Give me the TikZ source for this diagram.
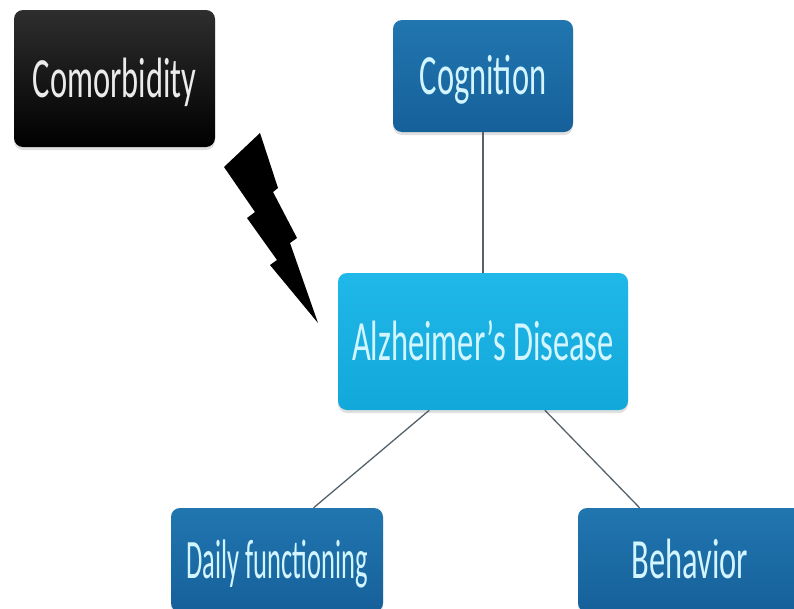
\documentclass[tikz,border=0pt]{standalone}
\usepackage{fontspec}
\setmainfont{Carlito}
\usepackage{graphicx}
\usetikzlibrary{shadows}

\definecolor{deepblue}{HTML}{2176B0}
\definecolor{deepblueb}{HTML}{16609A}
\definecolor{skyblue}{HTML}{20B8E8}
\definecolor{skyblueb}{HTML}{12A8DA}
\definecolor{palecyan}{HTML}{D2F5FF}
\definecolor{linkgrey}{HTML}{56626B}

% box labels are set narrow and tall
\newcommand\tall[2][1.75]{\scalebox{1}[#1]{#2}}

\begin{document}
\begin{tikzpicture}[x=1pt,y=-1pt,
    box/.style={rectangle,rounded corners=9pt,text height=37pt,text depth=0pt,
      inner sep=0pt,font=\fontsize{32.5}{33}\selectfont,
      drop shadow={opacity=.25,shadow xshift=0pt,shadow yshift=-3pt}},
    dark/.style={box,top color=deepblue,bottom color=deepblueb,text=palecyan},
    light/.style={box,top color=skyblue,bottom color=skyblueb,text=palecyan},
    noir/.style={box,top color=black!82,bottom color=black,text=black!8},
    link/.style={draw=linkgrey,line width=1.3pt}]
  \clip (0,0) rectangle (794,608);
  \fill[white] (0,0) rectangle (794,608);

  \node[noir,minimum width=201pt,minimum height=137pt] (com) at (114.5,78.5) {\tall{Comorbidity}};
  \node[dark,minimum width=180pt,minimum height=112pt] (cog) at (483,76) {\tall{Cognition}};
  \node[light,minimum width=290pt,minimum height=137pt] (ad) at (483,341.5) {\tall{Alzheimer’s Disease}};
  \node[dark,minimum width=212pt,minimum height=104pt,font=\fontsize{26.5}{27}\selectfont] (dly) at (277,560) {\tall[2.1]{Daily functioning}};
  \node[dark,minimum width=224pt,minimum height=104pt] (beh) at (690,560) {\tall{Behavior}};

  \draw[link] (cog) -- (ad);
  \draw[link] (ad.232) -- (dly.55);
  \draw[link] (ad.312) -- (beh.134);

  % lightning bolt
  \fill[black] (260,133) -- (278,188) -- (273,192) -- (297,238) -- (290,243)
    -- (318,323) -- (270,265) -- (277,260) -- (247,218) -- (255,212)
    -- (224,167) -- cycle;
\end{tikzpicture}
\end{document}
